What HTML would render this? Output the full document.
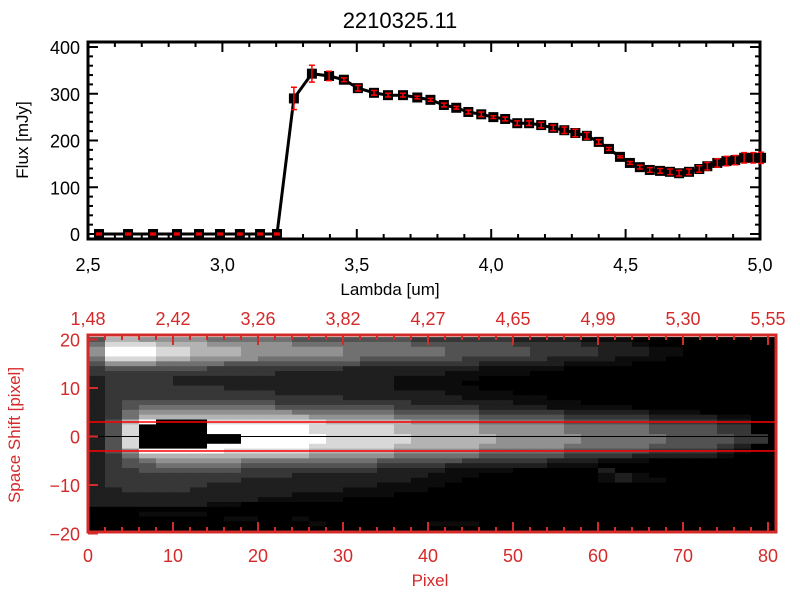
<!DOCTYPE html>
<html><head><meta charset="utf-8">
<style>
html,body{margin:0;padding:0;background:#fff;}
svg{display:block;font-family:"Liberation Sans",sans-serif;}
</style></head>
<body>
<svg id="fig" width="800" height="600" viewBox="0 0 800 600" xmlns="http://www.w3.org/2000/svg">
<rect x="0" y="0" width="800" height="600" fill="#fff"/>
<text x="400" y="28" font-size="22" text-anchor="middle">2210325.11</text>
<g id="topPlot"></g>
<g id="botPlot"></g>
<text x="390" y="295" font-size="17" text-anchor="middle">Lambda [um]</text>
<text transform="translate(28,140) rotate(-90)" font-size="17" text-anchor="middle">Flux [mJy]</text>
<text x="430" y="586" font-size="17" fill="#d42a2a" text-anchor="middle">Pixel</text>
<text transform="translate(20,435) rotate(-90)" font-size="17" fill="#d42a2a" text-anchor="middle">Space Shift [pixel]</text>
</svg>
<script>
const wavelengths=[2.541,2.649,2.742,2.831,2.913,2.991,3.065,3.140,3.203,3.266,3.333,3.397,3.452,3.504,3.564,3.616,3.672,3.725,3.774,3.824,3.870,3.915,3.963,4.008,4.052,4.097,4.141,4.186,4.231,4.272,4.313,4.356,4.400,4.438,4.479,4.516,4.553,4.590,4.628,4.665,4.699,4.736,4.774,4.804,4.841,4.875,4.908,4.941,4.975,5.004];
const fluxes=[0,0,0,0,0,0,0,0,0,290,343,338,330,312,302,297,297,292,287,276,270,261,256,250,246,237,237,233,227,222,216,210,197,182,165,152,143,137,135,133,130,133,139,145,152,156,158,163,163,163];
const errors=[2,2,2,2,2,2,2,2,2,24,18,10,4,6,5,4,4,3,3,4,3,4,5,3,4,5,5,6,6,7,8,7,5,3,2,3,4,5,5,6,6,6,7,8,9,10,10,11,11,12];
const xTicks=[2.5,3.0,3.5,4.0,4.5,5.0];
const xTickLabels=["2,5","3,0","3,5","4,0","4,5","5,0"];
const yTicks=[0,100,200,300,400];
const pixTicks=[0,10,20,30,40,50,60,70,80];
const lamTickLabels=["1,48","2,42","3,26","3,82","4,27","4,65","4,99","5,30","5,55"];
const shiftTicks=[-20,-10,0,10,20];
const image=[
"47766665555544444443333332222111000000000",
"58887776666655555554444443333222100000000",
"69998877766666655555544444333322211000000",
"69998877766666655555544444333322211000000",
"58887766665555554444443333322221110000000",
"46665555444444443333333222221111000000000",
"34444443333333322222222111110000000000000",
"33333333333222222222211111000000000000000",
"23333222222222222211111000000000000000000",
"23333222222222222211110000000000000000000",
"23333333222222222211111000000000000000000",
"23333333333222222222211110000000000000000",
"23333333333333322222221111100000000000000",
"23444444444333333332222221111000000000000",
"23455555555444444433333222211111000000000",
"23566666666655555544444333332222211100000",
"23577777777776666655555444443333322221100",
"24790008888888777776666555554444433332200",
"24800009999998888877777666665555544443300",
"24800009999998888877777666665555544443300",
"24800000099999888887777766666555554444330",
"24800000099999888887777766666555554444330",
"24800009999998888877777666665555544443200",
"24699999888887777766666555554444433332100",
"23577777777776666655555444443333222221000",
"23456666655555555444443333322211100000000",
"23445555544444444333322222211100000000000",
"23344444433333333222211110000020000000000",
"23333333333322222222111000000012100000000",
"23333333322222222221110000000012110000000",
"23333332222222222111100000000000000000000",
"22333322222222211111000000000000000000000",
"22222222222211111100000000000000000000000",
"22222222221111100000000000000000000000000",
"22222221100000000000000000000000000000000",
"00000000000000000000000000000000000000000",
"00011110000000000000000000000000000000000",
"00000000110010000000000000000000000000000",
"00000000000001000000111000000000000000000",
"00000000000000000000000000000000000000000",
"00000000000000000000000000000000000000011"];

const NS="http://www.w3.org/2000/svg";
function mk(parent,tag,attrs){const el=document.createElementNS(NS,tag);for(const k in attrs)el.setAttribute(k,attrs[k]);parent.appendChild(el);return el;}
const topG=document.getElementById('topPlot');
const botG=document.getElementById('botPlot');
const TL=88,TR=760,TT=42,TB=239;
function sx(v){return TL+(v-2.5)*(TR-TL)/2.5;}
function sy(v){return 234-v*0.4675;}
let el=mk(topG,'rect',{x:TL,y:TT,width:TR-TL,height:TB-TT,fill:'none',stroke:'#000','stroke-width':3});


for(let i=0;i<=25;i++){const x=sx(2.5+i*0.1);const L=(i%5===0)?10:5;
 mk(topG,'line',{x1:x,y1:TB,x2:x,y2:TB-L,stroke:'#000','stroke-width':2});
 mk(topG,'line',{x1:x,y1:TT,x2:x,y2:TT+L,stroke:'#000','stroke-width':2});}
for(let v=0;v<=400;v+=20){const y=sy(v);const L=(v%100===0)?10:5;
 mk(topG,'line',{x1:TL,y1:y,x2:TL+L,y2:y,stroke:'#000','stroke-width':2});
 mk(topG,'line',{x1:TR,y1:y,x2:TR-L,y2:y,stroke:'#000','stroke-width':2});}
xTicks.forEach(function(v,i){el=mk(topG,'text',{x:sx(v),y:271,'font-size':18,'text-anchor':'middle'});el.textContent=xTickLabels[i];
 
 });
yTicks.forEach(function(v){el=mk(topG,'text',{x:80,y:sy(v)+7,'font-size':18,'text-anchor':'end'});el.textContent=String(v);
 
 });
const dPath=wavelengths.map(function(w,i){return (i?'L':'M')+sx(w).toFixed(1)+' '+sy(fluxes[i]).toFixed(1);}).join(' ');
el=mk(topG,'path',{d:dPath,fill:'none',stroke:'#000','stroke-width':3});


wavelengths.forEach(function(w,i){const x=sx(w),y=sy(fluxes[i]);
 el=mk(topG,'rect',{x:x-5,y:y-5,width:10,height:10,fill:'#000'});
 
 
 const y1=sy(fluxes[i]+errors[i]),y2=sy(fluxes[i]-errors[i]);
 el=mk(topG,'path',{d:'M'+x+' '+y1+'L'+x+' '+y2+'M'+(x-3)+' '+y1+'L'+(x+3)+' '+y1+'M'+(x-3)+' '+y2+'L'+(x+3)+' '+y2,stroke:'#f00','stroke-width':1.5,fill:'none'});
 
 });
const BL=88,BR=776,BT=335,BB=532,RED='#d42a2a';
function px(c){return BL+c*8.5;}
function py(v){return 436.5-v*4.85;}
image.forEach(function(row,r){const v=20-r;for(let k=0;k<row.length;k++){const g=Math.round(Math.pow(Number(row[k])/9,1.4)*255);
 const x0=px(2*k),x1=Math.min(px(2*k+2),BR);if(x1<=x0)continue;
 const y0=Math.max(py(v+0.5),BT),y1=Math.min(py(v-0.5),BB);
 el=mk(botG,'rect',{x:x0,y:y0,width:x1-x0+0.5,height:y1-y0+0.5,fill:'rgb('+g+','+g+','+g+')'});
 
 }});
[3,-3].forEach(function(v){el=mk(botG,'line',{x1:BL,y1:py(v),x2:BR,y2:py(v),stroke:'#f00','stroke-width':1.5});
 
 });
el=mk(botG,'line',{x1:BL,y1:py(0),x2:BR,y2:py(0),stroke:'#000','stroke-width':1});


el=mk(botG,'rect',{x:BL,y:BT,width:BR-BL,height:BB-BT,fill:'none',stroke:RED,'stroke-width':3});


for(let c=0;c<=80;c+=2){const x=px(c);const L=(c%10===0)?10:5;
 mk(botG,'line',{x1:x,y1:BB,x2:x,y2:BB-L,stroke:RED,'stroke-width':2});
 mk(botG,'line',{x1:x,y1:BT,x2:x,y2:BT+L,stroke:RED,'stroke-width':2});}
shiftTicks.forEach(function(v){const y=py(v);
 mk(botG,'line',{x1:BL,y1:y,x2:BL+10,y2:y,stroke:RED,'stroke-width':2});
 el=mk(botG,'text',{x:80,y:y+7,'font-size':18,fill:RED,'text-anchor':'end'});el.textContent=(v<0)?('\u2212'+(-v)):String(v);
 
 });
pixTicks.forEach(function(c,i){el=mk(botG,'text',{x:px(c),y:562,'font-size':18,fill:RED,'text-anchor':'middle'});el.textContent=String(c);
 
 
 el=mk(botG,'text',{x:px(c),y:325,'font-size':18,fill:RED,'text-anchor':'middle'});el.textContent=lamTickLabels[i];
 
 });
</script>
</body></html>
